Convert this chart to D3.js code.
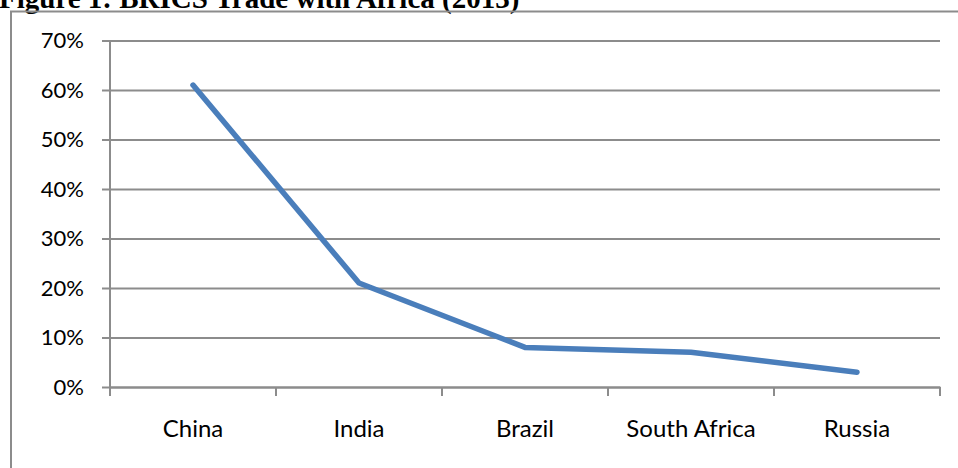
<!DOCTYPE html>
<html>
<head>
<meta charset="utf-8">
<script src="https://cdn.jsdelivr.net/npm/d3@7"></script>
<style>
  html, body { margin: 0; padding: 0; background: #fff; overflow: hidden; }
  .tick text { font-family: Lato, "Open Sans", sans-serif; fill: #000; }
</style>
</head>
<body>
<div id="chart"></div>
<script>
(function (d3) {
    "use strict";

    /***** Données *****/
    const countries = ["China", "India", "Brazil", "South Africa", "Russia"];
    const shares = [0.61, 0.21, 0.08, 0.07, 0.03];
    const yTicks = [0, 0.1, 0.2, 0.3, 0.4, 0.5, 0.6, 0.7];
    const title = "Figure 1:  BRICS Trade with Africa (2013)";

    /***** Configuration *****/
    const width = 958, height = 468;
    const margin = { top: 40.5, right: 18, bottom: 81, left: 110 };
    const plotW = width - margin.left - margin.right;
    const plotH = height - margin.top - margin.bottom;

    const svg = d3.select("#chart").append("svg")
        .attr("width", width)
        .attr("height", height);

    // Titre (coupé en haut comme dans l'original)
    svg.append("text")
        .attr("x", -1)
        .attr("y", 8)
        .attr("font-family", "'Liberation Serif', serif")
        .attr("font-weight", "bold")
        .attr("font-size", 29)
        .attr("fill", "#000")
        .text(title);

    // Cadre du graphique
    svg.append("path")
        .attr("d", "M11," + height + "V11.5H" + width)
        .attr("fill", "none")
        .attr("stroke", "#8c8c8c")
        .attr("stroke-width", 2);

    const g = svg.append("g")
        .attr("transform", "translate(" + margin.left + "," + margin.top + ")");

    /***** Échelles *****/
    const x = d3.scaleBand().domain(countries).range([0, plotW]).padding(0);
    const y = d3.scaleLinear().domain([0, 0.7]).range([plotH, 0]);

    // Quadrillage + axe vertical
    const yAxis = g.append("g")
        .call(d3.axisLeft(y)
            .tickValues(yTicks)
            .tickFormat(d3.format(".0%"))
            .tickSizeInner(-plotW)
            .tickSizeOuter(0)
            .tickPadding(26));
    yAxis.select(".domain").attr("stroke", "#8c8c8c").attr("stroke-width", 2)
        .attr("d", "M0,0V" + (plotH + 8));
    yAxis.selectAll(".tick line")
        .attr("stroke", "#8c8c8c")
        .attr("stroke-width", 2)
        .attr("x1", -8);
    yAxis.selectAll(".tick text").attr("font-size", 22);

    // Axe horizontal
    const xAxis = g.append("g")
        .attr("transform", "translate(0," + plotH + ")")
        .call(d3.axisBottom(x).tickSize(0).tickPadding(33));
    xAxis.select(".domain").attr("stroke", "#8c8c8c").attr("stroke-width", 2);
    xAxis.selectAll(".tick text").attr("font-size", 24);

    // Graduations aux bornes des catégories
    const bounds = countries.map(c => x(c)).concat([plotW]);
    xAxis.selectAll("line.bound")
        .data(bounds)
        .enter().append("line")
        .attr("class", "bound")
        .attr("x1", d => d).attr("x2", d => d)
        .attr("y1", 0).attr("y2", 9)
        .attr("stroke", "#8c8c8c")
        .attr("stroke-width", 2);

    // Courbe
    const line = d3.line()
        .x((d, i) => x(countries[i]) + x.bandwidth() / 2)
        .y(d => y(d));

    g.append("path")
        .datum(shares)
        .attr("d", line)
        .attr("fill", "none")
        .attr("stroke", "#4a7ebb")
        .attr("stroke-width", 5.5)
        .attr("stroke-linejoin", "round")
        .attr("stroke-linecap", "round");

})(d3);
</script>
</body>
</html>
